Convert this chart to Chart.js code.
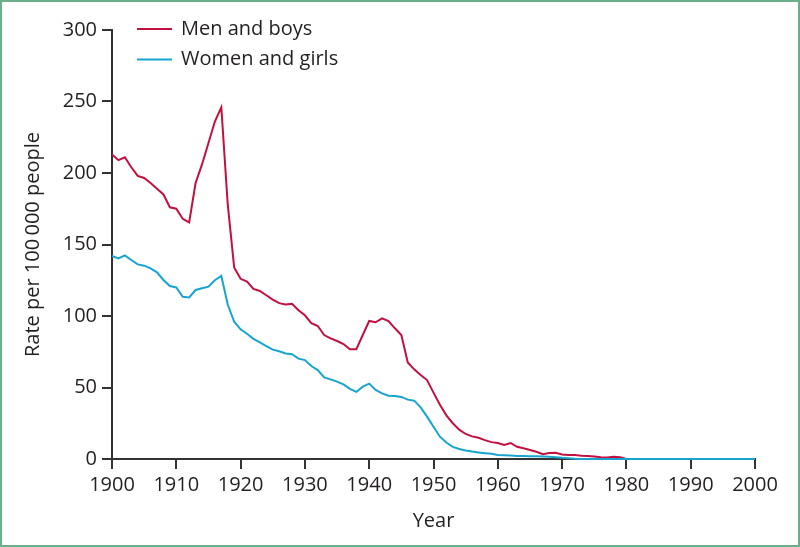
<!DOCTYPE html>
<html>
<head>
<meta charset="utf-8">
<script src="https://cdn.jsdelivr.net/npm/chart.js@4/dist/chart.umd.min.js"></script>
<style>
  html, body { margin: 0; padding: 0; background: #ffffff; }
  #wrap { position: relative; width: 800px; height: 547px; }
  #frame { position: absolute; left: 0; top: 0; width: 800px; height: 547px; box-sizing: border-box; border: 2px solid #6aae8a; pointer-events: none; }
  canvas { position: absolute; left: 0; top: 0; }
</style>
</head>
<body>
<div id="wrap">
  <canvas id="c" width="800" height="547"></canvas>
  <div id="frame"></div>
</div>
<script>
const years = [
  1900,1901,1902,1903,1904,1905,1906,1907,1908,1909,
  1910,1911,1912,1913,1914,1915,1916,1917,1918,1919,
  1920,1921,1922,1923,1924,1925,1926,1927,1928,1929,
  1930,1931,1932,1933,1934,1935,1936,1937,1938,1939,
  1940,1941,1942,1943,1944,1945,1946,1947,1948,1949,
  1950,1951,1952,1953,1954,1955,1956,1957,1958,1959,
  1960,1961,1962,1963,1964,1965,1966,1967,1968,1969,
  1970,1971,1972,1973,1974,1975,1976,1977,1978,1979,
  1980,1981,1982,1983,1984,1985,1986,1987,1988,1989,
  1990,1991,1992,1993,1994,1995,1996,1997,1998,1999,
  2000
];
const menRates = [
  213,209,211,204,198,196.5,193,189,185,176,
  175,168,165.5,193,206,221,236,246,178,134,
  126,124,119,117.5,114.5,111.5,109,108,108.5,104,
  100.5,95,93,86.7,84.4,82.5,80.4,76.7,76.8,86.7,
  96.5,95.6,98.4,96.5,91.4,86.7,67.5,62.7,58.7,55.2,
  46.4,38,30.5,25,20.5,17.5,15.8,14.8,13.2,11.8,
  11.2,9.8,11.2,8.5,7.5,6.3,5.1,3.3,4.2,4.3,
  3.2,2.8,2.8,2.3,2.1,1.8,1.2,1.0,1.6,1.2,
  0,0,0,0,0,0,0,0,0,0,
  0,0,0,0,0,0,0,0,0,0,
  0
];
const womenRates = [
  142,140.3,142.4,139.2,136.1,135.2,133.3,130.5,125.2,121,
  120,113.5,113,118.2,119.4,120.5,125,128,108,96,
  90.7,87.6,84,81.6,79,76.5,75.3,73.8,73.3,70.2,
  69.2,65,62.2,57.1,55.7,54.1,52.2,49,46.9,50.6,
  52.7,48.3,45.9,44.3,44.1,43.4,41.5,40.8,36.1,29.6,
  22.6,15.6,11.5,8.5,7.0,6.0,5.2,4.6,4.1,3.6,
  2.8,2.7,2.5,2.1,2.1,2.0,1.9,1.8,1.6,1.2,
  0.8,0.5,0.2,0,0,0,0,0,0,0,
  0,0,0,0,0,0,0,0,0,0,
  0,0,0,0,0,0,0,0,0,0,
  0
];
const seriesNames = ["Men and boys", "Women and girls"];
const xTitle = "Year";
const yTitle = "Rate per 100\u2009000 people";

const FONT = "'Open Sans', 'Noto Sans', sans-serif";
const TEXT = "#231f20";
const AXIS = "#333333";
const MEN_C = "#c2103f";
const WOMEN_C = "#17a5cf";

const legendPlugin = {
  id: 'insideLegend',
  afterDraw(chart) {
    const ctx = chart.ctx;
    const a = chart.chartArea;
    const order = [0, 1];
    ctx.save();
    ctx.font = "20px " + FONT;
    ctx.textBaseline = 'middle';
    ctx.textAlign = 'left';
    order.forEach((di, i) => {
      const ds = chart.data.datasets[di];
      const y = a.top - 1 + i * 30.5;
      ctx.strokeStyle = ds.borderColor;
      ctx.lineWidth = 2;
      ctx.beginPath();
      ctx.moveTo(a.left + 25, y);
      ctx.lineTo(a.left + 60, y);
      ctx.stroke();
      ctx.fillStyle = TEXT;
      ctx.fillText(ds.label, a.left + 69, y);
    });
    ctx.restore();
  }
};

const toPts = (vals) => vals.map((v, i) => ({x: years[i], y: v}));

new Chart(document.getElementById('c'), {
  type: 'line',
  data: {
    datasets: [
      { label: seriesNames[0], data: toPts(menRates), borderColor: MEN_C, borderWidth: 2, pointRadius: 0, tension: 0, fill: false, order: 1, clip: false },
      { label: seriesNames[1], data: toPts(womenRates), borderColor: WOMEN_C, borderWidth: 2, pointRadius: 0, tension: 0, fill: false, order: 0, clip: false }
    ]
  },
  options: {
    responsive: false,
    animation: false,
    events: [],
    layout: { padding: { top: 30, right: 45, bottom: 0, left: 0 } },
    plugins: { legend: { display: false }, tooltip: { enabled: false } },
    scales: {
      x: {
        type: 'linear', min: 1900, max: 2000,
        afterFit(s) { s.height = 88; },
        border: { display: true, color: AXIS, width: 2 },
        grid: { display: true, drawOnChartArea: false, drawTicks: true, tickLength: 10, color: AXIS, lineWidth: 2 },
        ticks: { stepSize: 10, padding: 4, color: TEXT, font: { family: FONT, size: 20 }, maxRotation: 0, autoSkip: false, callback: (v) => String(v) },
        title: { display: true, text: xTitle, color: TEXT, font: { family: FONT, size: 20 }, padding: { top: 0, bottom: 14 } }
      },
      y: {
        type: 'linear', min: 0, max: 300,
        afterFit(s) { s.width = 112; },
        border: { display: true, color: AXIS, width: 2 },
        grid: { display: true, drawOnChartArea: false, drawTicks: true, tickLength: 10, color: AXIS, lineWidth: 2 },
        ticks: { stepSize: 50, padding: 5, color: TEXT, font: { family: FONT, size: 20 }, callback: (v) => String(v) },
        title: { display: true, text: yTitle, color: TEXT, font: { family: FONT, size: 20 }, padding: { top: 21, bottom: 0 } }
      }
    }
  },
  plugins: [legendPlugin]
});
</script>
</body>
</html>
